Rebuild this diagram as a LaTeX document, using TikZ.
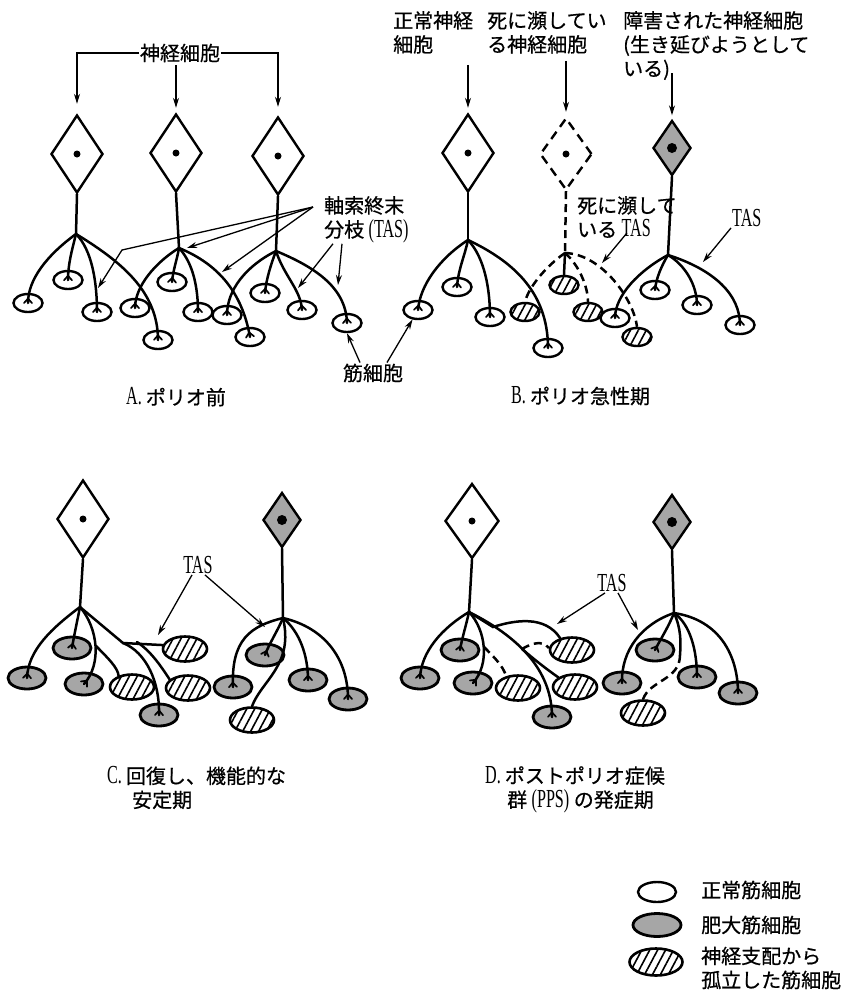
\documentclass[tikz,border=0pt]{standalone}
\usepackage{fontspec}
\setmainfont{Liberation Serif}[FakeStretch=0.8]
\newfontfamily\jpfont{Noto Sans CJK JP}[FakeBold=0.6]
\newfontfamily\condserif{Liberation Serif}[FakeStretch=0.62, Scale=1.3]
\usetikzlibrary{arrows.meta,shapes.geometric,patterns.meta,decorations.markings}

\begin{document}
\begin{tikzpicture}[
    x=1pt, y=-1pt,
    font=\jpfont\fontsize{20}{24}\selectfont,
    >={Stealth[length=10pt,width=6pt]},
    soma/.style={diamond, draw, line width=2.4pt, inner sep=0pt,
                 minimum width=52pt, minimum height=78pt,
                 path picture={\fill[black] (path picture bounding box.center) circle (3.5pt);}},
    weak/.style={soma, dash pattern=on 9pt off 6pt},
    hurt/.style={soma, fill=black!35, minimum width=38pt, minimum height=55pt,
                 path picture={\fill[black] (path picture bounding box.center) circle (5pt);}},
    cell/.style={ellipse, draw, line width=2.4pt, inner sep=0pt,
                 minimum width=29pt, minimum height=18pt},
    big/.style={line width=2.8pt, minimum width=38pt, minimum height=22pt},
    bigger/.style={line width=2.6pt, minimum width=44pt, minimum height=25pt},
    hyper/.style={fill=black!35},
    lost/.style={pattern={Lines[angle=62,distance=7pt,line width=1.6pt]}},
    nerve/.style={line width=2.5pt, line cap=round},
    dead/.style={nerve, line cap=butt, dash pattern=on 8pt off 5pt},
    plate/.style={postaction={decorate, decoration={markings,
                  mark=at position 0.995 with {\draw[line width=1.7pt, line cap=round]
                    (-4pt,0) -- (0.5pt,4pt) (-4pt,0) -- (0.5pt,-4pt);}}}},
    pointer/.style={->, line width=1.3pt},
    lbl/.style={inner sep=1pt, align=left},
  ]

  \path[use as bounding box, fill=white] (0,0) rectangle (857,994);

  %% ---- A: before polio ------------------------------------------------
  \node[soma] (A1) at (77,154) {};
  \node[soma] (A2) at (176,153) {};
  \node[soma] (A3) at (278,156) {};
  \node[lbl] (NC) at (180,53) {神経細胞};
  \draw[pointer, shorten >=10pt] (NC.west) -| (A1.north);
  \draw[pointer, shorten <=2pt, shorten >=5pt] (A2.north |- NC.south) -- (A2.north);
  \draw[pointer, shorten >=9pt] (NC.east) -| (A3.north);

  \coordinate (A1b) at (76,234);
  \coordinate (A2b) at (179,248);
  \coordinate (A3b) at (276,251);
  \draw[nerve] (A1.south) -- (A1b);
  \draw[nerve] (A2.south) -- (A2b);
  \draw[nerve] (A3.south) -- (A3b);

  \foreach \i/\p in {1/{(28,303)}, 2/{(68,280)}, 3/{(97,312)}, 4/{(158,340)},
                     5/{(135,308)}, 6/{(172,282)}, 7/{(198,312)}, 8/{(227,315)},
                     9/{(250,337)}, 10/{(265,293)}, 11/{(302,310)}, 12/{(347,323)}}
    \node[cell] (Am\i) at \p {};

  \draw[nerve, plate] (A1b) .. controls (46,256) and (28,280) .. (Am1.center);
  \draw[nerve, plate] (A1b) .. controls (72,250) and (68,264) .. (Am2.center);
  \draw[nerve, plate] (A1b) .. controls (92,250) and (97,282) .. (Am3.center);
  \draw[nerve, plate] (A1b) .. controls (122,262) and (158,292) .. (Am4.center);
  \draw[nerve, plate] (A2b) .. controls (156,262) and (135,286) .. (Am5.center);
  \draw[nerve, plate] (A2b) .. controls (177,260) and (173,270) .. (Am6.center);
  \draw[nerve, plate] (A2b) .. controls (194,264) and (198,290) .. (Am7.center);
  \draw[nerve, plate] (A2b) .. controls (218,264) and (242,292) .. (Am9.center);
  \draw[nerve, plate] (A3b) .. controls (246,266) and (227,290) .. (Am8.center);
  \draw[nerve, plate] (A3b) .. controls (271,264) and (266,280) .. (Am10.center);
  \draw[nerve, plate] (A3b) .. controls (284,276) and (301,290) .. (Am11.center);
  \draw[nerve, plate] (A3b) .. controls (312,266) and (346,286) .. (Am12.center);

  \node[lbl, anchor=north west] (TA) at (323,195) {軸索終末\\分枝 {\condserif (TAS)}};
  \coordinate (TAo) at ([xshift=-10pt,yshift=-12pt]TA.north west);
  \coordinate (TAk) at (122,250);
  \coordinate (TA1) at (98,288);
  \coordinate (TA2) at (187,248);
  \coordinate (TA3) at (222,272);
  \coordinate (TA4) at (298,288);
  \coordinate (TA5) at (338,285);
  \draw[pointer] (TAo) -- (TAk) -- (TA1);
  \draw[pointer] (TAo) -- (TA2);
  \draw[pointer] (TAo) -- (TA3);
  \draw[pointer] ([xshift=10pt]TA.south west) -- (TA4);
  \draw[pointer] ([xshift=19pt]TA.south west) -- (TA5);

  \node[lbl] (MC) at (373,373) {筋細胞};

  \node[lbl, anchor=west] (CA) at (125,397) {{\condserif A. }ポリオ前};

  %% ---- B: acute polio -------------------------------------------------
  \node[soma] (B1) at (468,153) {};
  \node[weak, minimum height=72pt] (B2) at (566,154) {};
  \node[hurt] (B3) at (672,148) {};
  \node[lbl, anchor=north west] (NB1) at (392,10) {正常神経\\細胞};
  \node[lbl, anchor=north west] (NB2) at (486,10) {死に瀕してい\\る神経細胞};
  \node[lbl, anchor=north west] (NB3) at (622,10) {障害された神経細胞\\(生き延びようとして\\いる)};
  \draw[pointer, shorten <=10pt, shorten >=5pt] (B1.north |- NB1.south) -- (B1.north);
  \draw[pointer, shorten <=6pt, shorten >=5pt] (B2.north |- NB2.south) -- (B2.north);
  \draw[pointer, shorten <=-8pt, shorten >=4pt] (B3.north |- NB3.south) -- (B3.north);

  \coordinate (B1b) at (468,240);
  \coordinate (B2b) at (565,253);
  \coordinate (B3b) at (668,255);
  \draw[nerve] (B1.south) -- (B1b);
  \draw[dead] (B2.south) -- (B2b);
  \draw[nerve] (B3.south) -- (B3b);

  \foreach \i/\p in {1/{(418,310)}, 2/{(457,287)}, 3/{(490,317)}, 4/{(548,348)},
                     8/{(615,318)}, 10/{(655,290)}, 11/{(697,305)}, 12/{(740,325)}}
    \node[cell] (Bm\i) at \p {};
  \foreach \i/\p in {5/{(525,312)}, 6/{(564,285)}, 7/{(588,312)}, 9/{(637,337)}}
    \node[cell, lost] (Bm\i) at \p {};

  \draw[nerve, plate] (B1b) .. controls (440,258) and (420,285) .. (Bm1.center);
  \draw[nerve, plate] (B1b) .. controls (465,255) and (458,270) .. (Bm2.center);
  \draw[nerve, plate] (B1b) .. controls (485,258) and (490,290) .. (Bm3.center);
  \draw[nerve, plate] (B1b) .. controls (510,260) and (548,290) .. (Bm4.center);
  \draw[dead] (B2b) .. controls (546,266) and (528,288) .. (Bm5.north);
  \draw[nerve] (B2b) -- (Bm6.north);
  \draw[dead] (B2b) .. controls (580,266) and (588,288) .. (Bm7.north);
  \draw[dead] (B2b) .. controls (602,254) and (634,300) .. (Bm9.north);
  \draw[nerve, plate] (B3b) .. controls (640,270) and (615,295) .. (Bm8.center);
  \draw[nerve, plate] (B3b) .. controls (662,265) and (656,278) .. (Bm10.center);
  \draw[nerve, plate] (B3b) .. controls (685,265) and (697,285) .. (Bm11.center);
  \draw[nerve, plate] (B3b) .. controls (715,270) and (740,295) .. (Bm12.center);

  \draw[pointer] ([xshift=-13pt]MC.north) -- (Am12.south);
  \draw[pointer] ([xshift=14pt]MC.north) -- (Bm1.-120);

  \node[lbl, anchor=north west] (TB) at (576,195) {死に瀕して\\いる {\condserif TAS}};
  \coordinate (TB1) at (602,263);
  \draw[pointer] ([yshift=6pt]TB.south) -- (TB1);
  \node[lbl, anchor=west] (TB3) at (731,218) {\condserif TAS};
  \coordinate (TB2) at (703,262);
  \draw[pointer] (TB3.south west) -- (TB2);

  \node[lbl, anchor=west] (CB) at (510,396) {{\condserif B. }ポリオ急性期};

  %% ---- C: recovery, stable --------------------------------------------
  \node[soma] (C1) at (83,519) {};
  \node[hurt] (C2) at (282,520) {};
  \coordinate (C1b) at (80,607);
  \coordinate (C2b) at (283,618);
  \draw[nerve] (C1.south) -- (C1b);
  \draw[nerve] (C2.south) -- (C2b);

  \foreach \i/\p in {1/{(27,678)}, 2/{(72,648)}, 3/{(84,684)}, 7/{(159,715)},
                     8/{(265,655)}, 9/{(233,687)}, 10/{(308,680)}, 11/{(348,699)}}
    \node[cell, big, hyper] (Cm\i) at \p {};
  \foreach \i/\p in {4/{(132,687)}, 5/{(185,649)}, 6/{(188,688)}, 12/{(252,720)}}
    \node[cell, bigger, lost] (Cm\i) at \p {};

  \draw[nerve, plate] (C1b) .. controls (52,628) and (28,650) .. (Cm1.center);
  \draw[nerve, plate] (C1b) .. controls (77,622) and (74,636) .. (Cm2.center);
  \draw[nerve, plate] (C1b) .. controls (98,628) and (102,664) .. (Cm3.center);
  \coordinate (C1s) at (96,646);
  \draw[nerve] (C1s) .. controls (108,658) and (118,668) .. (Cm4.140);
  \coordinate (C1k) at (123,643);
  \coordinate (C1j) at (137,642);
  \draw[nerve] (C1b) -- (C1k) -- (Cm5.170);
  \draw[nerve, plate] (C1k) .. controls (146,652) and (160,682) .. (Cm7.center);
  \draw[nerve] (C1j) .. controls (152,652) and (162,668) .. (Cm6.155);
  \draw[nerve, plate] (C2b) .. controls (250,626) and (231,640) .. (Cm9.center);
  \draw[nerve, plate] (C2b) .. controls (277,632) and (269,644) .. (Cm8.center);
  \draw[nerve] (C2b) .. controls (294,665) and (262,680) .. (Cm12.north);
  \draw[nerve, plate] (C2b) .. controls (300,632) and (308,656) .. (Cm10.center);
  \draw[nerve, plate] (C2b) .. controls (326,628) and (348,660) .. (Cm11.center);

  \node[lbl] (TC) at (198,565) {\condserif TAS};
  \coordinate (TC1) at (158,635);
  \coordinate (TC2) at (265,627);
  \draw[pointer] ([xshift=-6pt]TC.south) -- (TC1);
  \draw[pointer] ([xshift=7pt]TC.south) -- (TC2);

  \node[lbl, anchor=north west] (CC) at (106,765)
    {{\condserif C. }回復し、機能的な\\\hspace*{25pt}安定期};

  %% ---- D: onset of PPS ------------------------------------------------
  \node[soma, minimum width=54pt, minimum height=75pt] (D1) at (472,521) {};
  \node[hurt] (D2) at (672,522) {};
  \coordinate (D1b) at (469,612);
  \coordinate (D2b) at (674,613);
  \draw[nerve] (D1.south) -- (D1b);
  \draw[nerve] (D2.south) -- (D2b);

  \foreach \i/\p in {1/{(420,678)}, 2/{(460,650)}, 3/{(473,683)}, 7/{(552,717)},
                     8/{(655,650)}, 9/{(622,683)}, 10/{(697,677)}, 11/{(738,693)}}
    \node[cell, big, hyper] (Dm\i) at \p {};
  \foreach \i/\p in {4/{(518,688)}, 5/{(572,650)}, 6/{(575,687)}, 12/{(643,713)}}
    \node[cell, bigger, lost] (Dm\i) at \p {};

  \draw[nerve, plate] (D1b) .. controls (442,628) and (421,652) .. (Dm1.center);
  \draw[nerve, plate] (D1b) .. controls (466,626) and (462,638) .. (Dm2.center);
  \draw[nerve, plate] (D1b) .. controls (486,630) and (490,664) .. (Dm3.center);
  \coordinate (D1s) at (484,647);
  \draw[dead] (D1s) .. controls (495,658) and (503,666) .. (Dm4.135);
  \coordinate (D1k) at (493,627);
  \draw[nerve] (D1b) -- (D1k) .. controls (515,620) and (545,615) .. (Dm5.135);
  \draw[nerve, plate] (D1b) .. controls (525,640) and (552,675) .. (Dm7.center);
  \coordinate (D1j) at (522,649);
  \draw[dead] (D1j) .. controls (532,643) and (542,640) .. (Dm5.175);
  \draw[nerve] (D1j) .. controls (535,660) and (545,668) .. (Dm6.150);
  \draw[nerve, plate] (D2b) .. controls (642,624) and (621,650) .. (Dm9.center);
  \draw[nerve, plate] (D2b) .. controls (668,628) and (660,640) .. (Dm8.center);
  \coordinate (D2s) at (680,655);
  \draw[nerve] (D2b) .. controls (681,628) and (681,642) .. (D2s);
  \draw[dead] (D2s) .. controls (680,680) and (650,680) .. (Dm12.north);
  \draw[nerve, plate] (D2b) .. controls (690,624) and (697,650) .. (Dm10.center);
  \draw[nerve, plate] (D2b) .. controls (720,620) and (738,656) .. (Dm11.center);

  \node[lbl] (TD) at (612,583) {\condserif TAS};
  \coordinate (TD1) at (557,624);
  \coordinate (TD2) at (638,630);
  \draw[pointer] ([xshift=-7pt]TD.south) -- (TD1);
  \draw[pointer] ([xshift=6pt]TD.south) -- (TD2);

  \node[lbl, anchor=north west] (CD) at (484,765)
    {{\condserif D. }ポストポリオ症候\\\hspace*{22pt}群 {\condserif (PPS)} の発症期};

  %% ---- key ------------------------------------------------------------
  \node[cell, minimum width=38pt, minimum height=20pt] (K1) at (657,892) {};
  \node[cell, big, hyper, minimum width=48pt, minimum height=23pt] (K2) at (657,925) {};
  \node[cell, bigger, lost, minimum width=53pt, minimum height=27pt] (K3) at (656,962) {};
  \node[lbl, anchor=west] (K1t) at (700,890) {正常筋細胞};
  \node[lbl, anchor=west] (K2t) at (700,925) {肥大筋細胞};
  \node[lbl, anchor=west] (K3t) at (700,968) {神経支配から\\孤立した筋細胞};

\end{tikzpicture}
\end{document}
